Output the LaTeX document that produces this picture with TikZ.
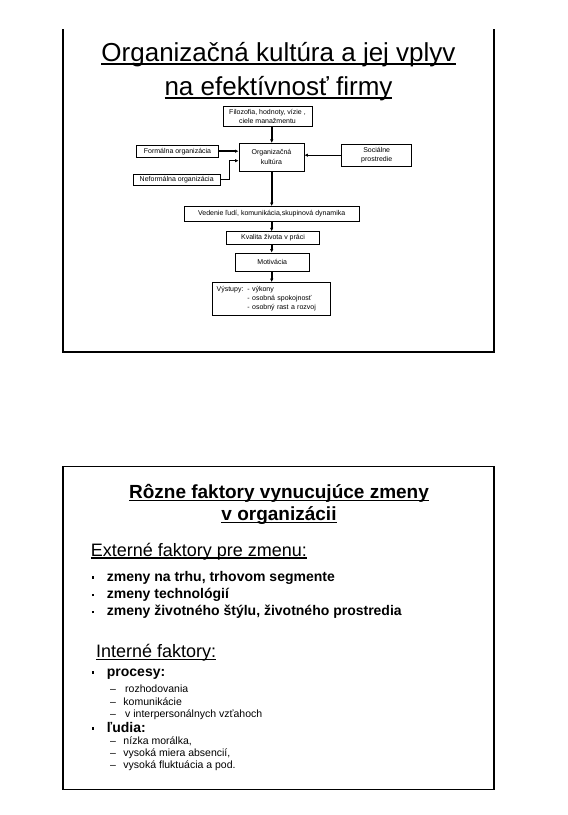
\documentclass[tikz,border=0pt]{standalone}
\usepackage{fontspec}
\setmainfont{Liberation Sans}
\usetikzlibrary{arrows.meta}

\newsavebox{\ulbox}
\newcommand{\ulin}[1]{\sbox{\ulbox}{#1}\rlap{\vrule width\wd\ulbox height -0.07em depth 0.143em}\usebox{\ulbox}}
\newcommand{\sqb}{\makebox[15pt][l]{\raisebox{2.5pt}{\rule{2.3pt}{2.3pt}}}}
\newcommand{\dsh}{\makebox[13.3pt][l]{–}}

\tikzset{
  box/.style={draw, line width=0.8pt, inner sep=0pt, align=center, font=\fontsize{7}{9.5}\selectfont},
  spinearrow/.style={line width=1.6pt, -{Latex[length=3.5pt,width=3.5pt]}},
  thinarrow/.style={line width=0.8pt, -{Latex[length=3.5pt,width=3.5pt]}},
  frame/.style={line width=1.2pt},
  bigtitle/.style={inner sep=0pt, anchor=base, font=\fontsize{26}{34}\selectfont},
  boldtitle/.style={inner sep=0pt, anchor=base, font=\fontsize{19}{22}\selectfont\bfseries},
  heading/.style={inner sep=0pt, anchor=base west, font=\fontsize{18}{22}\selectfont},
  item/.style={inner sep=0pt, anchor=base west, font=\fontsize{14}{17}\selectfont\bfseries},
  subitem/.style={inner sep=0pt, anchor=base west, font=\fontsize{10.5}{12.5}\selectfont}
}

\begin{document}
\begin{tikzpicture}[x=1pt,y=-1pt]
    \fill[white] (0,0) rectangle (568,815);
    \useasboundingbox (0,0) rectangle (568,815);
    % first slide
    \draw[frame] (63,29) -- (63,352) -- (494,352) -- (494,29);
    \node[bigtitle] (title1a) at (278.5,61) {\ulin{Organizačná kultúra a jej vplyv}};
    \node[bigtitle] (title1b) at (278.5,95) {\ulin{na efektívnosť firmy}};
    \coordinate (spine) at (271.7,0);
    \node[box, minimum width=89pt, minimum height=20pt, font=\fontsize{7}{8.5}\selectfont] (filo) at (267.5,116.7) {Filozofia, hodnoty, vízie ,\\ciele manažmentu};
    \node[box, minimum width=65pt, minimum height=27.7pt] (org) at (271.5,157.2) {Organizačná\\kultúra};
    \node[box, minimum width=81.6pt, minimum height=12.3pt] (form) at (177.5,151.2) {Formálna organizácia};
    \node[box, minimum width=86.7pt, minimum height=11pt] (neform) at (176.7,179.5) {Neformálna organizácia};
    \node[box, minimum width=70pt, minimum height=21.7pt] (soc) at (376.7,155.2) {Sociálne\\prostredie};
    \node[box, minimum width=174.5pt, minimum height=14.5pt] (ved) at (271.7,213.8) {Vedenie ľudí, komunikácia,skupinová dynamika};
    \node[box, minimum width=93pt, minimum height=12.5pt] (kval) at (273,238) {Kvalita života v práci};
    \node[box, minimum width=74.5pt, minimum height=18pt] (motiv) at (272.2,262) {Motivácia};
    \node[box, minimum width=118pt, minimum height=32.5pt, text width=110pt, align=left, font=\fontsize{7}{8.7}\selectfont] (vyst) at (271.6,298.8)
        {\begin{tabular}{@{}l@{\hspace{4pt}}l@{}}Výstupy: & - výkony\\ & - osobná spokojnosť\\ & - osobný rast a rozvoj\end{tabular}};
    \draw[spinearrow] (filo.south -| spine) -- (org.north -| spine);
    \draw[spinearrow] (org.south -| spine) -- (ved.north -| spine);
    \draw[spinearrow] (ved.south -| spine) -- (kval.north -| spine);
    \draw[spinearrow] (kval.south -| spine) -- (motiv.north -| spine);
    \draw[spinearrow] (motiv.south -| spine) -- (vyst.north -| spine);
    \draw[spinearrow] (form.east) -- (org.west |- form.east);
    \coordinate (bend) at (229.3,160.7);
    \draw[thinarrow] (neform.east) -| (bend) -- (org.west |- bend);
    \draw[thinarrow] (soc.west) -- (org.east |- soc.west);
    % second slide
    \draw[frame] (63,466.7) rectangle (494,789.3);
    \node[boldtitle] (title2a) at (279,498.5) {\ulin{Rôzne faktory vynucujúce zmeny}};
    \node[boldtitle] (title2b) at (279,520.5) {\ulin{v organizácii}};
    \node[heading] (ext) at (90.7,556) {\ulin{Externé faktory pre zmenu:}};
    \node[item] (ext1) at (91.7,581) {\sqb zmeny na trhu, trhovom segmente};
    \node[item] (ext2) at (91.7,598.5) {\sqb zmeny technológií};
    \node[item] (ext3) at (91.7,615.5) {\sqb zmeny životného štýlu, životného prostredia};
    \node[heading] (int) at (96,657.5) {\ulin{Interné faktory:}};
    \node[item] (int1) at (91.7,676) {\sqb procesy:};
    \node[subitem] (int1a) at (110,692.5) {\dsh\hspace{1.7pt}rozhodovania};
    \node[subitem] (int1b) at (110,705) {\dsh komunikácie};
    \node[subitem] (int1c) at (110,717.5) {\dsh\hspace{1.7pt}v interpersonálnych vzťahoch};
    \node[item] (int2) at (91.7,732) {\sqb ľudia:};
    \node[subitem] (int2a) at (110,744) {\dsh nízka morálka,};
    \node[subitem] (int2b) at (110,756) {\dsh vysoká miera absencií,};
    \node[subitem] (int2c) at (110,768) {\dsh vysoká fluktuácia a pod.};
\end{tikzpicture}
\end{document}
